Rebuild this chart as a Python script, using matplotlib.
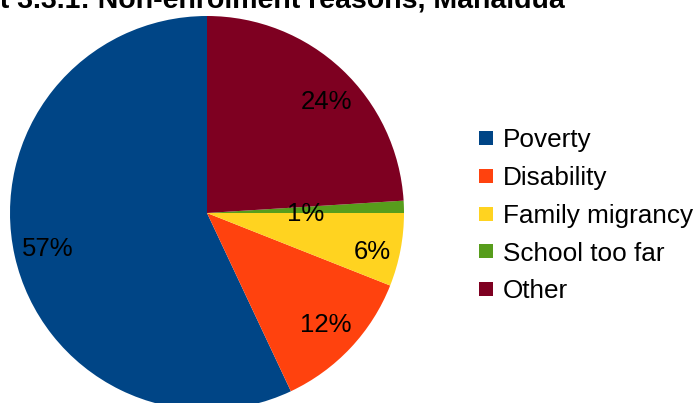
import matplotlib
matplotlib.use("Agg")
import matplotlib.pyplot as plt
from matplotlib.lines import Line2D
import numpy as np

plt.rcParams['font.family'] = ['Liberation Sans', 'DejaVu Sans']

title = "Chart 3.3.1: Non-enrolment reasons, Mahaldua"
categories = ["Poverty", "Disability", "Family migrancy", "School too far", "Other"]
shares = [57, 12, 6, 1, 24]
colors = ["#004586", "#ff420e", "#ffd320", "#579d1c", "#7e0021"]

W, H = 696, 403
fig = plt.figure(figsize=(W / 100, H / 100), dpi=100)

cx, cy, R = 207, 213, 197
ax = fig.add_axes([(cx - R) / W, (H - cy - R) / H, 2 * R / W, 2 * R / H])
wedges, texts, autotexts = ax.pie(
    shares, colors=colors, startangle=90, counterclock=True,
    autopct=lambda p: f"{p:.0f}%", pctdistance=0.83,
    radius=1.0, wedgeprops=dict(linewidth=0),
    textprops=dict(fontsize=18.5, color="black"))
ax.set_xlim(-1, 1)
ax.set_ylim(-1, 1)
ax.set_aspect("equal")
ax.axis("off")

# Fine placement of the percentage labels (pixel nudges, x right / y down)
nudges = {"Other": (8, 8), "Family migrancy": (5, 8), "School too far": (0, 4)}
for i, name in enumerate(categories):
    w = wedges[i]
    mid = np.deg2rad((w.theta1 + w.theta2) / 2)
    r = 0.5 if name == "School too far" else 0.83
    dx, dy = nudges.get(name, (0, 0))
    autotexts[i].set_position((r * np.cos(mid) + dx / R, r * np.sin(mid) - dy / R))

handles = [Line2D([], [], marker="s", linestyle="none", markersize=10.5,
                  markerfacecolor=c, markeredgewidth=0) for c in colors]
fig.legend(handles, categories, loc="upper left",
           bbox_to_anchor=(478 / W, 1 - 128 / H), frameon=False,
           fontsize=18.8, handlelength=0.6, handletextpad=0.35,
           labelspacing=0.53, borderpad=0, borderaxespad=0)

fig.text(565 / W, 1 - 8 / H, title, ha="right", va="baseline",
         fontsize=20.5, fontweight="bold")

fig.savefig("out.png", dpi=100)
